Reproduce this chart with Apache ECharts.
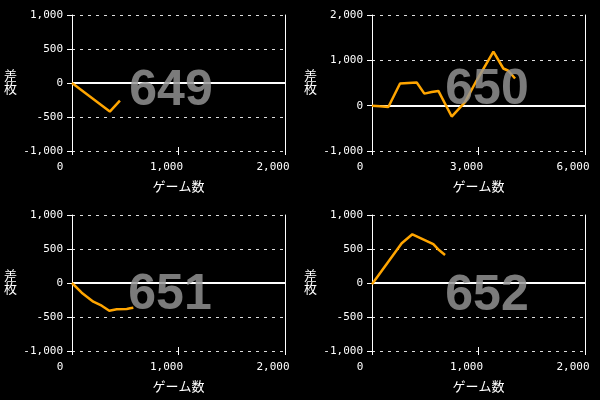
<!DOCTYPE html>
<html>
<head>
<meta charset="utf-8">
<style>
  html, body { margin: 0; padding: 0; background: #000; }
  #main { width: 600px; height: 400px; }
</style>
<script src="https://cdn.jsdelivr.net/npm/echarts@6/dist/echarts.min.js"></script>
</head>
<body>
<div id="main"></div>
<script>
// 台番号
const machines = ['649', '650', '651', '652']

// [ゲーム数, 差枚]
const data649 = [[0, 0], [355, -420], [450, -260]]
const data650 = [
  [0, 0], [225, -15], [460, -30], [790, 490], [1025, 502], [1260, 510],
  [1475, 265], [1680, 300], [1870, 325], [2245, -240], [2620, 80],
  [2950, 560], [3420, 1190], [3700, 820], [3840, 770], [4030, 600]
]
const data651 = [
  [0, 0], [91, -143], [200, -275], [279, -334], [350, -407], [420, -387],
  [514, -382], [545, -372], [576, -363]
]
const data652 = [[0, -19], [279, 584], [379, 716], [576, 573], [629, 485], [686, 412]]

const xMax = [2000, 6000, 2000, 2000]
const xStep = [1000, 3000, 1000, 1000]
const yMin = [-1000, -1000, -1000, -1000]
const yMax = [1000, 2000, 1000, 1000]
const yStep = [500, 1000, 500, 500]
const seriesData = [data649, data650, data651, data652]

const font = 'DejaVu Sans Mono, Noto Sans CJK JP, monospace'
const fmt = v => v.toLocaleString('en-US')

const gridPos = [
  { left: 72, top: 15 },
  { left: 372, top: 15 },
  { left: 72, top: 215 },
  { left: 372, top: 215 }
]
// 背景の番号の位置
const labelPos = [[171, 91], [487, 90], [170, 295], [487, 296]]

const grid = []
const xAxis = []
const yAxis = []
const series = []
const graphic = []

gridPos.forEach((p, i) => {
  grid.push({ left: p.left, top: p.top, width: 213, height: 136 })

  xAxis.push({
    type: 'value',
    gridIndex: i,
    min: 0,
    max: xMax[i],
    interval: xStep[i],
    name: 'ゲーム数',
    nameLocation: 'middle',
    nameGap: 30,
    nameTextStyle: { color: '#fff', fontSize: 13, fontFamily: font },
    axisLine: { show: false, onZero: false },
    axisTick: { show: true, length: 4, lineStyle: { color: '#fff' } },
    axisLabel: {
      color: '#fff', fontSize: 11, fontFamily: font,
      margin: 11, padding: [0, 24, 0, 0]
    },
    splitLine: { show: false }
  })
  // 内側の目盛り
  xAxis.push({
    type: 'value',
    gridIndex: i,
    position: 'bottom',
    min: 0,
    max: xMax[i],
    interval: xStep[i],
    axisLine: { show: false, onZero: false },
    axisTick: { show: true, inside: true, length: 4, lineStyle: { color: '#fff' } },
    axisLabel: { show: false },
    splitLine: { show: false }
  })

  yAxis.push({
    type: 'value',
    gridIndex: i,
    min: yMin[i],
    max: yMax[i],
    interval: yStep[i],
    name: '差\n枚',
    nameLocation: 'middle',
    nameRotate: 0,
    nameGap: 55,
    nameTextStyle: { color: '#fff', fontSize: 13, fontFamily: font, lineHeight: 13 },
    axisLine: { show: true, onZero: false, lineStyle: { color: '#fff', width: 1 } },
    axisTick: { show: true, length: 5, lineStyle: { color: '#fff' } },
    axisLabel: { color: '#fff', fontSize: 11, fontFamily: font, margin: 9, formatter: fmt },
    splitLine: { show: true, lineStyle: { color: '#ddd', type: [3, 5], width: 1 } }
  })
  // 右端の線
  yAxis.push({
    type: 'value',
    gridIndex: i,
    position: 'right',
    min: yMin[i],
    max: yMax[i],
    interval: yStep[i],
    axisLine: { show: true, onZero: false, lineStyle: { color: '#fff', width: 1 } },
    axisTick: { show: false },
    axisLabel: { show: false },
    splitLine: { show: false }
  })

  series.push({
    type: 'line',
    xAxisIndex: i * 2,
    yAxisIndex: i * 2,
    data: seriesData[i],
    symbol: 'none',
    lineStyle: { color: '#ffa500', width: 2.5 },
    z: 4,
    markLine: {
      silent: true,
      symbol: 'none',
      z: 2,
      label: { show: false },
      lineStyle: { color: '#fff', type: 'solid', width: 2, opacity: 1 },
      data: [{ yAxis: 0 }]
    },
    animation: false
  })

  graphic.push({
    type: 'text',
    x: labelPos[i][0],
    y: labelPos[i][1],
    z: 100,
    style: {
      text: machines[i],
      fill: 'rgba(150,150,150,0.82)',
      font: 'bold 50px Liberation Sans, Arial, sans-serif',
      textAlign: 'center',
      textVerticalAlign: 'middle'
    }
  })
})

const chart = echarts.init(document.getElementById('main'))
chart.setOption({
  backgroundColor: '#000',
  animation: false,
  grid,
  xAxis,
  yAxis,
  series,
  graphic
})
</script>
</body>
</html>
